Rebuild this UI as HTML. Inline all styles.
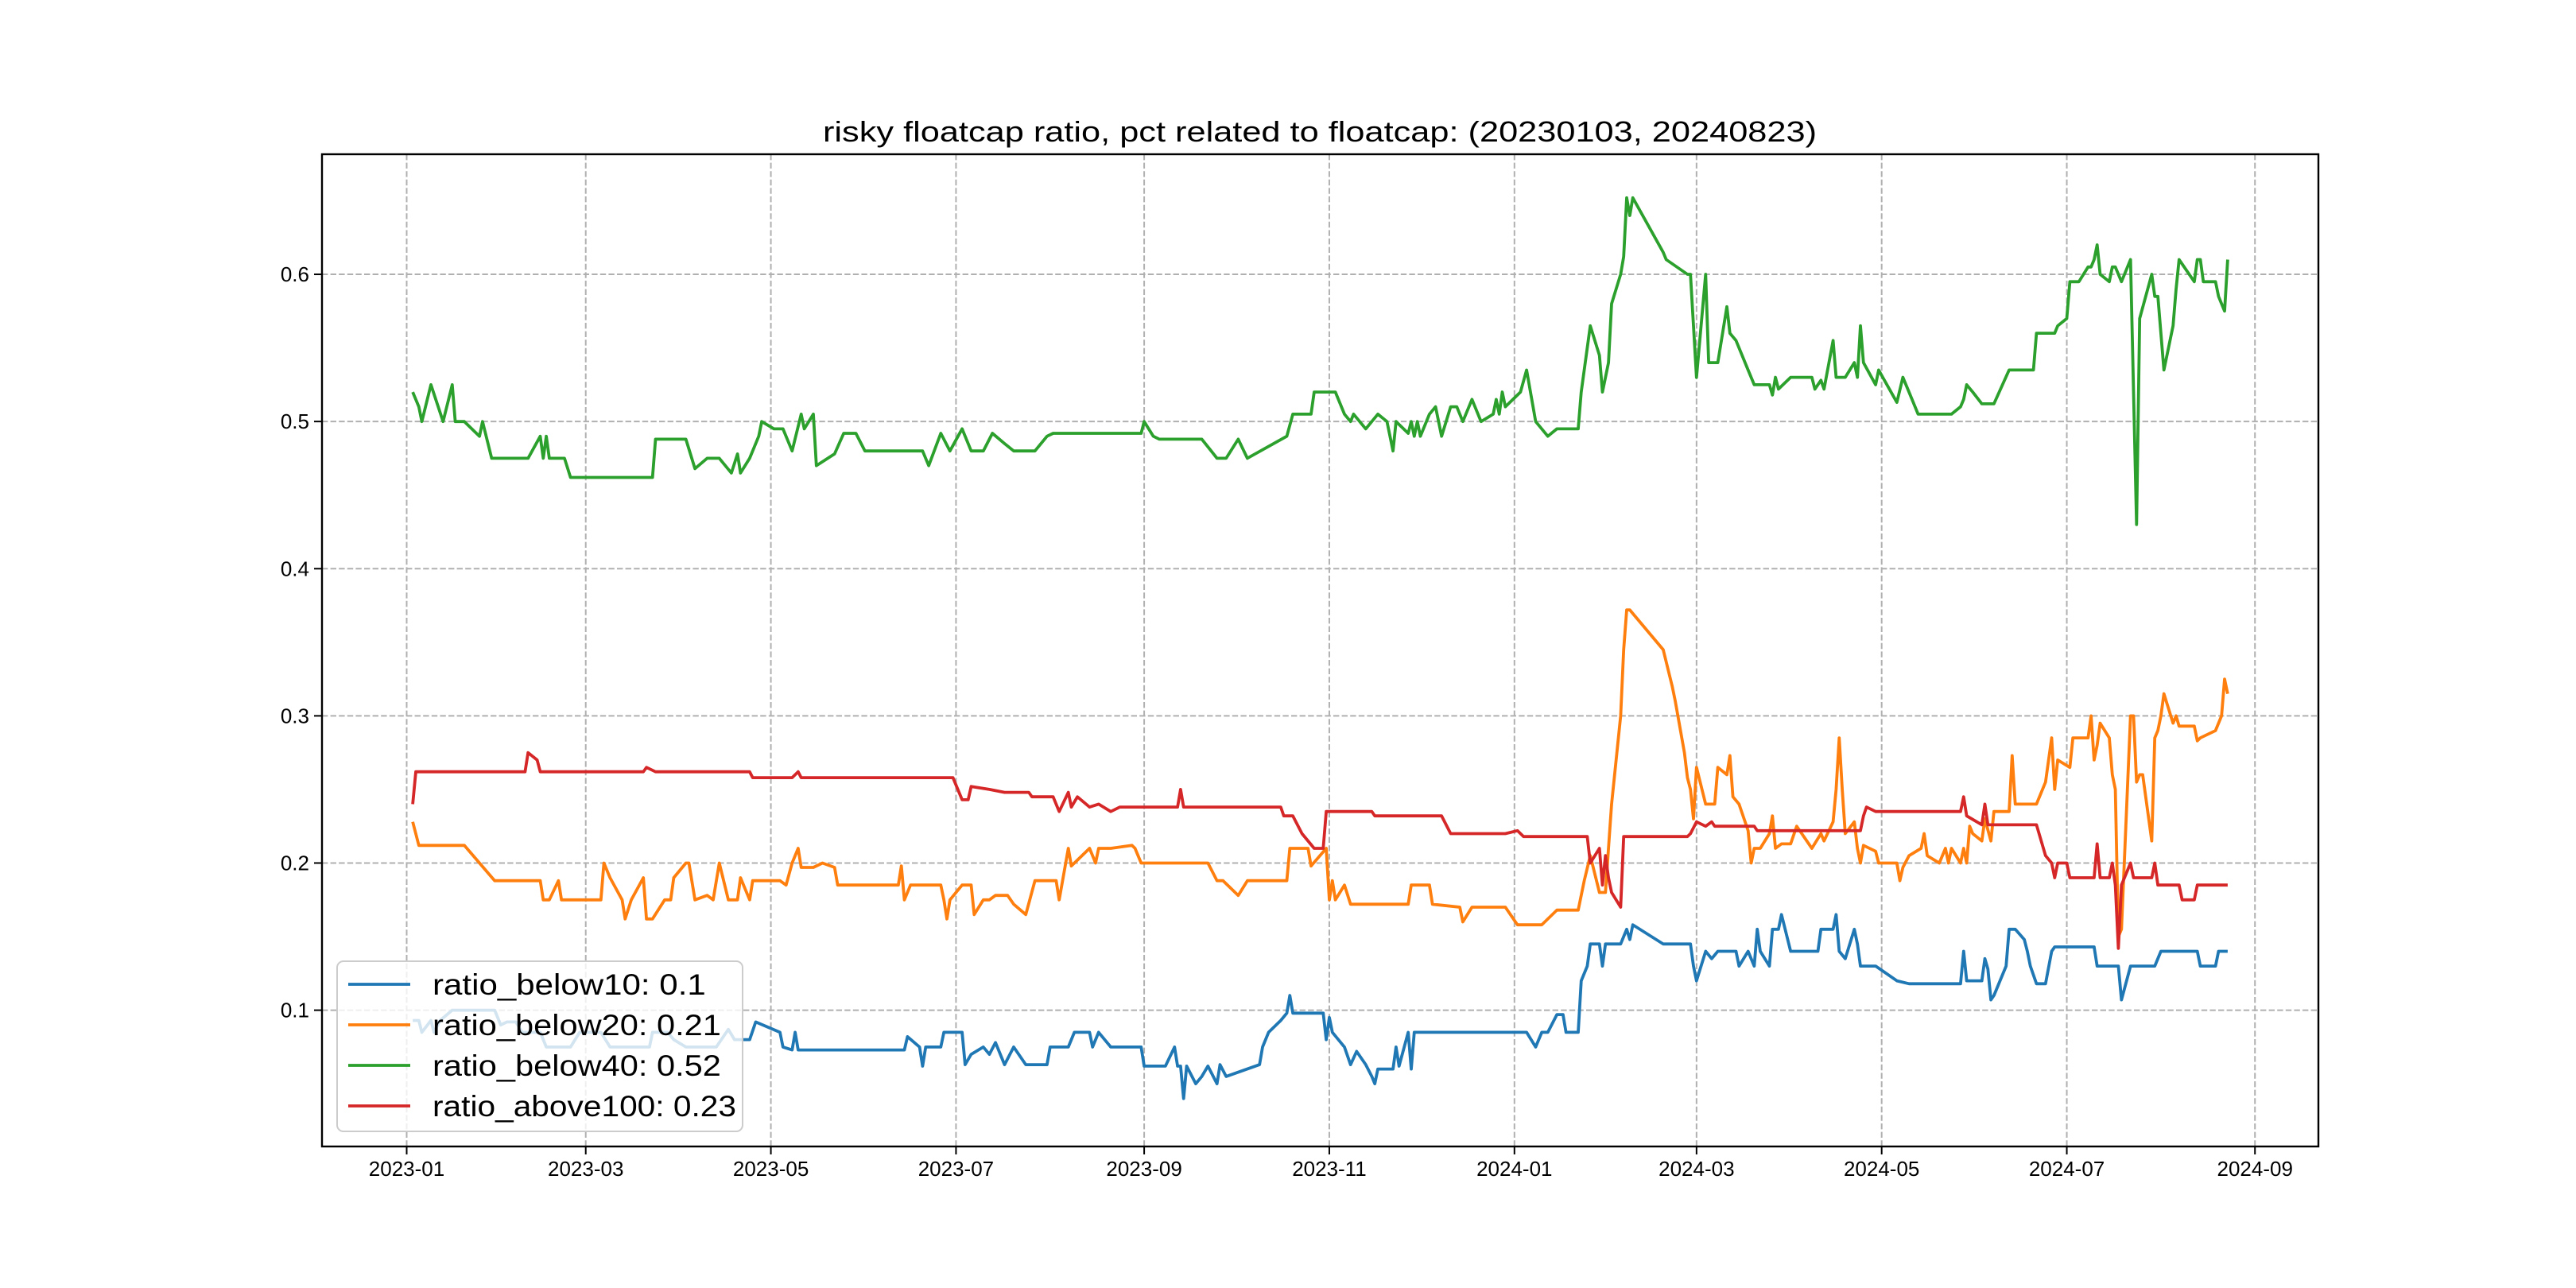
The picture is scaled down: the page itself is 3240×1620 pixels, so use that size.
<!DOCTYPE html>
<html><head><meta charset="utf-8">
<style>
html,body{margin:0;padding:0;background:#fff;}
svg{display:block;}
text{font-family:"WenQuanYi Zen Hei","Liberation Sans",sans-serif;fill:#000;}
</style></head>
<body>
<svg id="chart" width="3240" height="1620" viewBox="0 0 3240 1620" xmlns="http://www.w3.org/2000/svg">
<rect width="3240" height="1620" fill="#fff"/>
<g id="grid"></g>
<g id="series"></g>
<rect x="405" y="194" width="2511" height="1248" fill="none" stroke="#000" stroke-width="2.4"/>
<g id="ticks"></g>
<text x="1660" y="178" text-anchor="middle" font-size="36" textLength="1250" lengthAdjust="spacingAndGlyphs">risky floatcap ratio, pct related to floatcap: (20230103, 20240823)</text>
<g id="legend"></g>
</svg>
<script>
const xTickLabels = ["2023-01","2023-03","2023-05","2023-07","2023-09","2023-11","2024-01","2024-03","2024-05","2024-07","2024-09"];
const yTickValues = [0.1,0.2,0.3,0.4,0.5,0.6];
const seriesNames = ["ratio_below10: 0.1","ratio_below20: 0.21","ratio_below40: 0.52","ratio_above100: 0.23"];
const seriesColors = ["#1f77b4","#ff7f0e","#2ca02c","#d62728"];

const below10Dates = ["2023-01-03","2023-01-05","2023-01-06","2023-01-09","2023-01-10","2023-01-12","2023-01-16","2023-01-30","2023-02-01","2023-02-03","2023-02-06","2023-02-08","2023-02-14","2023-02-16","2023-02-24","2023-02-27","2023-03-06","2023-03-09","2023-03-22","2023-03-23","2023-03-28","2023-03-30","2023-04-03","2023-04-13","2023-04-17","2023-04-19","2023-04-24","2023-04-26","2023-05-04","2023-05-05","2023-05-08","2023-05-09","2023-05-10","2023-06-14","2023-06-15","2023-06-19","2023-06-20","2023-06-21","2023-06-26","2023-06-27","2023-07-03","2023-07-04","2023-07-06","2023-07-10","2023-07-12","2023-07-14","2023-07-17","2023-07-20","2023-07-24","2023-07-31","2023-08-01","2023-08-07","2023-08-09","2023-08-14","2023-08-15","2023-08-17","2023-08-21","2023-08-31","2023-09-01","2023-09-08","2023-09-11","2023-09-12","2023-09-13","2023-09-14","2023-09-15","2023-09-18","2023-09-20","2023-09-22","2023-09-25","2023-09-26","2023-09-28","2023-10-09","2023-10-10","2023-10-12","2023-10-16","2023-10-18","2023-10-19","2023-10-20","2023-10-30","2023-10-31","2023-11-01","2023-11-02","2023-11-06","2023-11-08","2023-11-10","2023-11-13","2023-11-15","2023-11-16","2023-11-17","2023-11-22","2023-11-23","2023-11-24","2023-11-27","2023-11-28","2023-11-29","2023-12-29","2024-01-05","2024-01-08","2024-01-10","2024-01-12","2024-01-15","2024-01-17","2024-01-18","2024-01-22","2024-01-23","2024-01-25","2024-01-26","2024-01-29","2024-01-30","2024-01-31","2024-02-05","2024-02-06","2024-02-07","2024-02-08","2024-02-09","2024-02-19","2024-02-28","2024-02-29","2024-03-01","2024-03-04","2024-03-06","2024-03-08","2024-03-14","2024-03-15","2024-03-18","2024-03-20","2024-03-21","2024-03-22","2024-03-25","2024-03-26","2024-03-28","2024-03-29","2024-04-01","2024-04-10","2024-04-11","2024-04-15","2024-04-16","2024-04-17","2024-04-19","2024-04-22","2024-04-23","2024-04-24","2024-04-29","2024-05-06","2024-05-10","2024-05-27","2024-05-28","2024-05-29","2024-06-03","2024-06-04","2024-06-05","2024-06-06","2024-06-07","2024-06-11","2024-06-12","2024-06-14","2024-06-17","2024-06-18","2024-06-19","2024-06-21","2024-06-24","2024-06-26","2024-06-27","2024-07-10","2024-07-11","2024-07-18","2024-07-19","2024-07-22","2024-07-30","2024-08-01","2024-08-13","2024-08-14","2024-08-19","2024-08-20","2024-08-23"];
const below10Values = [0.093,0.093,0.085,0.093,0.085,0.093,0.1,0.1,0.09,0.092,0.092,0.085,0.085,0.075,0.075,0.085,0.085,0.075,0.075,0.085,0.085,0.08,0.075,0.075,0.087,0.08,0.08,0.092,0.085,0.075,0.073,0.085,0.073,0.073,0.082,0.075,0.062,0.075,0.075,0.085,0.085,0.063,0.07,0.075,0.07,0.078,0.063,0.075,0.063,0.063,0.075,0.075,0.085,0.085,0.075,0.085,0.075,0.075,0.062,0.062,0.075,0.062,0.062,0.04,0.062,0.05,0.055,0.062,0.05,0.063,0.055,0.063,0.075,0.085,0.093,0.098,0.11,0.098,0.098,0.08,0.095,0.085,0.075,0.063,0.072,0.063,0.055,0.05,0.06,0.06,0.075,0.062,0.085,0.06,0.085,0.085,0.085,0.075,0.085,0.085,0.097,0.097,0.085,0.085,0.12,0.13,0.145,0.145,0.13,0.145,0.145,0.15,0.155,0.148,0.158,0.145,0.145,0.13,0.12,0.14,0.135,0.14,0.14,0.13,0.14,0.13,0.155,0.14,0.13,0.155,0.155,0.165,0.14,0.14,0.155,0.155,0.165,0.14,0.135,0.155,0.145,0.13,0.13,0.12,0.118,0.118,0.14,0.12,0.12,0.135,0.128,0.107,0.11,0.13,0.155,0.155,0.148,0.14,0.13,0.118,0.118,0.14,0.143,0.143,0.13,0.13,0.107,0.13,0.13,0.14,0.14,0.13,0.13,0.14,0.14];

const below20Dates = ["2023-01-03","2023-01-05","2023-01-20","2023-01-30","2023-02-14","2023-02-15","2023-02-17","2023-02-20","2023-02-21","2023-03-06","2023-03-07","2023-03-09","2023-03-13","2023-03-14","2023-03-16","2023-03-20","2023-03-21","2023-03-23","2023-03-27","2023-03-29","2023-03-30","2023-04-03","2023-04-04","2023-04-06","2023-04-10","2023-04-12","2023-04-14","2023-04-17","2023-04-20","2023-04-21","2023-04-24","2023-04-25","2023-05-04","2023-05-06","2023-05-08","2023-05-10","2023-05-11","2023-05-15","2023-05-18","2023-05-22","2023-05-23","2023-06-12","2023-06-13","2023-06-14","2023-06-16","2023-06-26","2023-06-27","2023-06-28","2023-06-29","2023-07-03","2023-07-06","2023-07-07","2023-07-10","2023-07-12","2023-07-14","2023-07-18","2023-07-20","2023-07-24","2023-07-27","2023-08-03","2023-08-04","2023-08-07","2023-08-08","2023-08-09","2023-08-14","2023-08-16","2023-08-17","2023-08-21","2023-08-28","2023-08-29","2023-08-31","2023-09-22","2023-09-25","2023-09-27","2023-10-02","2023-10-05","2023-10-18","2023-10-19","2023-10-25","2023-10-26","2023-10-31","2023-11-01","2023-11-02","2023-11-03","2023-11-06","2023-11-08","2023-11-27","2023-11-28","2023-12-04","2023-12-05","2023-12-14","2023-12-15","2023-12-18","2023-12-29","2024-01-02","2024-01-10","2024-01-12","2024-01-15","2024-01-22","2024-01-24","2024-01-26","2024-01-29","2024-01-31","2024-02-01","2024-02-02","2024-02-05","2024-02-06","2024-02-07","2024-02-08","2024-02-19","2024-02-22","2024-02-23","2024-02-26","2024-02-27","2024-02-28","2024-02-29","2024-03-01","2024-03-04","2024-03-07","2024-03-08","2024-03-11","2024-03-12","2024-03-13","2024-03-15","2024-03-18","2024-03-19","2024-03-20","2024-03-22","2024-03-25","2024-03-26","2024-03-27","2024-03-29","2024-04-01","2024-04-03","2024-04-08","2024-04-11","2024-04-12","2024-04-15","2024-04-16","2024-04-17","2024-04-18","2024-04-19","2024-04-22","2024-04-23","2024-04-24","2024-04-25","2024-04-29","2024-04-30","2024-05-06","2024-05-07","2024-05-08","2024-05-10","2024-05-14","2024-05-15","2024-05-16","2024-05-20","2024-05-22","2024-05-23","2024-05-24","2024-05-27","2024-05-28","2024-05-29","2024-05-30","2024-05-31","2024-06-03","2024-06-04","2024-06-06","2024-06-07","2024-06-12","2024-06-13","2024-06-14","2024-06-17","2024-06-21","2024-06-24","2024-06-26","2024-06-27","2024-06-28","2024-07-02","2024-07-03","2024-07-08","2024-07-09","2024-07-10","2024-07-11","2024-07-12","2024-07-15","2024-07-16","2024-07-17","2024-07-18","2024-07-19","2024-07-22","2024-07-23","2024-07-24","2024-07-25","2024-07-26","2024-07-29","2024-07-30","2024-07-31","2024-08-01","2024-08-02","2024-08-05","2024-08-06","2024-08-07","2024-08-12","2024-08-13","2024-08-14","2024-08-19","2024-08-20","2024-08-21","2024-08-22","2024-08-23"];
const below20Values = [0.228,0.212,0.212,0.188,0.188,0.175,0.175,0.188,0.175,0.175,0.2,0.19,0.175,0.162,0.175,0.19,0.162,0.162,0.175,0.175,0.19,0.2,0.2,0.175,0.178,0.175,0.2,0.175,0.175,0.19,0.175,0.188,0.188,0.185,0.2,0.21,0.197,0.197,0.2,0.197,0.185,0.185,0.198,0.175,0.185,0.185,0.175,0.162,0.175,0.185,0.185,0.165,0.175,0.175,0.178,0.178,0.172,0.165,0.188,0.188,0.175,0.21,0.198,0.2,0.21,0.2,0.21,0.21,0.212,0.21,0.2,0.2,0.188,0.188,0.178,0.188,0.188,0.21,0.21,0.198,0.21,0.175,0.188,0.175,0.185,0.172,0.172,0.185,0.185,0.172,0.17,0.16,0.17,0.17,0.158,0.158,0.162,0.168,0.168,0.188,0.205,0.18,0.18,0.21,0.24,0.3,0.345,0.372,0.372,0.345,0.32,0.31,0.275,0.258,0.25,0.23,0.265,0.24,0.24,0.265,0.26,0.273,0.245,0.24,0.222,0.2,0.21,0.21,0.22,0.232,0.21,0.213,0.213,0.225,0.21,0.22,0.215,0.228,0.25,0.285,0.25,0.22,0.228,0.21,0.2,0.212,0.208,0.2,0.2,0.188,0.197,0.205,0.21,0.22,0.205,0.2,0.21,0.2,0.21,0.2,0.21,0.2,0.225,0.22,0.215,0.23,0.215,0.235,0.235,0.273,0.24,0.24,0.24,0.255,0.285,0.25,0.27,0.265,0.285,0.285,0.3,0.27,0.28,0.295,0.285,0.26,0.25,0.15,0.155,0.3,0.3,0.255,0.26,0.26,0.215,0.285,0.29,0.3,0.315,0.295,0.3,0.293,0.293,0.283,0.285,0.29,0.295,0.3,0.325,0.315];

const below40Dates = ["2023-01-03","2023-01-05","2023-01-06","2023-01-09","2023-01-13","2023-01-16","2023-01-17","2023-01-20","2023-01-25","2023-01-26","2023-01-29","2023-02-10","2023-02-14","2023-02-15","2023-02-16","2023-02-17","2023-02-22","2023-02-24","2023-03-23","2023-03-24","2023-04-03","2023-04-06","2023-04-10","2023-04-14","2023-04-18","2023-04-20","2023-04-21","2023-04-24","2023-04-27","2023-04-28","2023-05-02","2023-05-05","2023-05-08","2023-05-11","2023-05-12","2023-05-15","2023-05-16","2023-05-22","2023-05-25","2023-05-29","2023-06-01","2023-06-20","2023-06-22","2023-06-26","2023-06-29","2023-07-03","2023-07-06","2023-07-10","2023-07-13","2023-07-17","2023-07-20","2023-07-27","2023-07-31","2023-08-02","2023-08-31","2023-09-01","2023-09-04","2023-09-06","2023-09-20","2023-09-25","2023-09-28","2023-10-02","2023-10-05","2023-10-18","2023-10-20","2023-10-26","2023-10-27","2023-11-03","2023-11-06","2023-11-08","2023-11-09","2023-11-13","2023-11-17","2023-11-20","2023-11-22","2023-11-23","2023-11-27","2023-11-28","2023-11-29","2023-11-30","2023-12-01","2023-12-04","2023-12-06","2023-12-08","2023-12-11","2023-12-13","2023-12-15","2023-12-18","2023-12-21","2023-12-25","2023-12-26","2023-12-27","2023-12-28","2023-12-29","2024-01-03","2024-01-05","2024-01-08","2024-01-12","2024-01-15","2024-01-22","2024-01-23","2024-01-26","2024-01-29","2024-01-30","2024-02-01","2024-02-02","2024-02-05","2024-02-06","2024-02-07","2024-02-08","2024-02-09","2024-02-19","2024-02-20","2024-02-27","2024-02-28","2024-03-01","2024-03-04","2024-03-05","2024-03-08","2024-03-11","2024-03-12","2024-03-14","2024-03-18","2024-03-20","2024-03-25","2024-03-26","2024-03-27","2024-03-28","2024-04-01","2024-04-08","2024-04-09","2024-04-11","2024-04-12","2024-04-15","2024-04-16","2024-04-19","2024-04-22","2024-04-23","2024-04-24","2024-04-25","2024-04-29","2024-04-30","2024-05-06","2024-05-08","2024-05-10","2024-05-13","2024-05-24","2024-05-27","2024-05-28","2024-05-29","2024-05-31","2024-06-03","2024-06-07","2024-06-12","2024-06-20","2024-06-21","2024-06-27","2024-06-28","2024-07-01","2024-07-02","2024-07-05","2024-07-08","2024-07-09","2024-07-10","2024-07-11","2024-07-12","2024-07-15","2024-07-16","2024-07-17","2024-07-19","2024-07-22","2024-07-24","2024-07-25","2024-07-29","2024-07-30","2024-07-31","2024-08-02","2024-08-05","2024-08-06","2024-08-07","2024-08-12","2024-08-13","2024-08-14","2024-08-15","2024-08-19","2024-08-20","2024-08-22","2024-08-23"];
const below40Values = [0.52,0.51,0.50,0.525,0.50,0.525,0.50,0.50,0.49,0.50,0.475,0.475,0.49,0.475,0.49,0.475,0.475,0.462,0.462,0.488,0.488,0.468,0.475,0.475,0.465,0.478,0.465,0.475,0.49,0.50,0.495,0.495,0.48,0.505,0.495,0.505,0.47,0.478,0.492,0.492,0.48,0.48,0.47,0.492,0.48,0.495,0.48,0.48,0.492,0.485,0.48,0.48,0.49,0.492,0.492,0.50,0.49,0.488,0.488,0.475,0.475,0.488,0.475,0.49,0.505,0.505,0.52,0.52,0.505,0.50,0.505,0.495,0.505,0.50,0.48,0.50,0.492,0.50,0.49,0.50,0.49,0.505,0.51,0.49,0.51,0.51,0.50,0.515,0.50,0.505,0.515,0.505,0.52,0.51,0.52,0.535,0.50,0.49,0.495,0.495,0.52,0.565,0.545,0.52,0.54,0.58,0.60,0.612,0.652,0.64,0.652,0.615,0.61,0.60,0.60,0.53,0.60,0.54,0.54,0.578,0.56,0.555,0.535,0.525,0.525,0.518,0.53,0.522,0.53,0.53,0.522,0.528,0.522,0.555,0.53,0.53,0.54,0.53,0.565,0.54,0.525,0.535,0.513,0.53,0.52,0.505,0.505,0.51,0.515,0.525,0.52,0.512,0.512,0.535,0.535,0.56,0.56,0.565,0.57,0.595,0.595,0.605,0.605,0.61,0.62,0.60,0.595,0.605,0.605,0.595,0.61,0.43,0.57,0.60,0.585,0.585,0.535,0.565,0.59,0.61,0.595,0.61,0.61,0.595,0.595,0.585,0.575,0.61,0.63,0.62];

const above100Dates = ["2023-01-03","2023-01-04","2023-02-09","2023-02-10","2023-02-13","2023-02-14","2023-03-20","2023-03-21","2023-03-24","2023-04-24","2023-04-25","2023-05-08","2023-05-10","2023-05-11","2023-06-30","2023-07-03","2023-07-05","2023-07-06","2023-07-12","2023-07-17","2023-07-25","2023-07-26","2023-08-02","2023-08-04","2023-08-07","2023-08-08","2023-08-10","2023-08-14","2023-08-17","2023-08-21","2023-08-24","2023-09-12","2023-09-13","2023-09-14","2023-10-16","2023-10-17","2023-10-20","2023-10-23","2023-10-27","2023-10-30","2023-10-31","2023-11-15","2023-11-16","2023-12-08","2023-12-11","2023-12-29","2024-01-02","2024-01-04","2024-01-25","2024-01-26","2024-01-29","2024-01-30","2024-01-31","2024-02-01","2024-02-02","2024-02-05","2024-02-06","2024-02-27","2024-02-28","2024-03-01","2024-03-04","2024-03-06","2024-03-07","2024-03-20","2024-03-21","2024-04-24","2024-04-25","2024-04-26","2024-04-29","2024-05-27","2024-05-28","2024-05-29","2024-06-03","2024-06-04","2024-06-05","2024-06-21","2024-06-24","2024-06-26","2024-06-27","2024-06-28","2024-07-01","2024-07-02","2024-07-10","2024-07-11","2024-07-12","2024-07-15","2024-07-16","2024-07-17","2024-07-18","2024-07-19","2024-07-22","2024-07-23","2024-07-29","2024-07-30","2024-07-31","2024-08-07","2024-08-08","2024-08-12","2024-08-13","2024-08-23"];
const above100Values = [0.24,0.262,0.262,0.275,0.27,0.262,0.262,0.265,0.262,0.262,0.258,0.258,0.262,0.258,0.258,0.243,0.243,0.252,0.25,0.248,0.248,0.245,0.245,0.235,0.248,0.238,0.245,0.238,0.24,0.235,0.238,0.238,0.25,0.238,0.238,0.232,0.232,0.22,0.21,0.21,0.235,0.235,0.232,0.232,0.22,0.22,0.222,0.218,0.218,0.2,0.21,0.185,0.205,0.19,0.18,0.17,0.218,0.218,0.22,0.228,0.225,0.228,0.225,0.225,0.222,0.222,0.232,0.238,0.235,0.235,0.245,0.232,0.226,0.24,0.226,0.226,0.205,0.2,0.19,0.2,0.2,0.19,0.19,0.213,0.19,0.19,0.2,0.185,0.142,0.185,0.2,0.19,0.19,0.2,0.185,0.185,0.175,0.175,0.185,0.185];

const seriesDates = [below10Dates, below20Dates, below40Dates, above100Dates];
const seriesValues = [below10Values, below20Values, below40Values, above100Values];

const NS = "http://www.w3.org/2000/svg";
const L = 405, R = 2916, T = 194, B = 1442;
const d0 = Date.UTC(2023,0,3), d1 = Date.UTC(2024,7,23);
const xpad = (d1 - d0) * 0.05;
const xMin = d0 - xpad, xMax = d1 + xpad;
const yMin = 0.0074, yMax = 0.6816;
function parseD(s){const p=s.split("-").map(Number);return Date.UTC(p[0],p[1]-1,p[2]||1);}
function xScale(s){return L + (parseD(s) - xMin) / (xMax - xMin) * (R - L);}
function yScale(v){return B - (v - yMin) / (yMax - yMin) * (B - T);}
function mk(tag, attrs, parent){const e=document.createElementNS(NS,tag);for(const k in attrs)e.setAttribute(k,attrs[k]);parent.appendChild(e);return e;}

const grid = document.getElementById("grid");
const ticks = document.getElementById("ticks");
xTickLabels.forEach(lbl => {
  const x = xScale(lbl);
  const g = mk("line",{x1:x,x2:x,y1:T,y2:B,stroke:"#b0b0b0","stroke-width":2,"stroke-dasharray":"7.4,3.2"},grid);
  
  
  const t = mk("line",{x1:x,x2:x,y1:B,y2:B+10,stroke:"#000","stroke-width":2},ticks);
  
  
  const tx = mk("text",{x:x,y:B+37,"text-anchor":"middle","font-size":"26"},ticks);
  tx.textContent = lbl;
  
  
});
yTickValues.forEach(v => {
  const y = yScale(v);
  const g = mk("line",{x1:L,x2:R,y1:y,y2:y,stroke:"#b0b0b0","stroke-width":2,"stroke-dasharray":"7.4,3.2"},grid);
  
  
  const t = mk("line",{x1:L-10,x2:L,y1:y,y2:y,stroke:"#000","stroke-width":2},ticks);
  
  
  const tx = mk("text",{x:L-16,y:y+9,"text-anchor":"end","font-size":"26"},ticks);
  tx.textContent = v.toFixed(1);
  
  
});

const sg = document.getElementById("series");
seriesDates.forEach((ds, i) => {
  const pts = ds.map((d, j) => xScale(d).toFixed(1) + "," + yScale(seriesValues[i][j]).toFixed(1)).join(" ");
  const pl = mk("polyline",{points:pts,fill:"none",stroke:seriesColors[i],"stroke-width":3.8,"stroke-linejoin":"round"},sg);
  
  
});

const lg = document.getElementById("legend");
const box = mk("rect",{x:424,y:1209,width:510,height:214,rx:8,fill:"#fff","fill-opacity":0.8,stroke:"#cccccc","stroke-width":2},lg);


const rowY = [1238,1289,1340,1391];
seriesNames.forEach((n, i) => {
  const ln = mk("line",{x1:438,x2:516,y1:rowY[i],y2:rowY[i],stroke:seriesColors[i],"stroke-width":3.8},lg);
  
  
  const tx = mk("text",{x:544,y:rowY[i]+13,"font-size":"37",textLength:n.length*19.1,lengthAdjust:"spacingAndGlyphs"},lg);
  tx.textContent = n;
  
  
});
</script>
</body></html>
